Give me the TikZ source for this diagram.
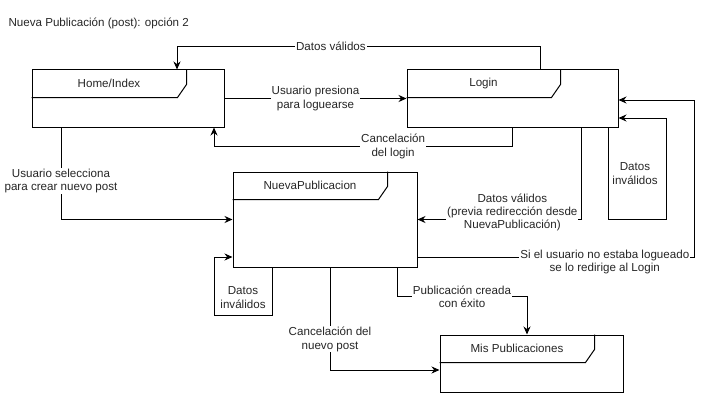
\documentclass[tikz,border=0pt]{standalone}
\usepackage{fontspec}
\setmainfont{Liberation Sans}
\usetikzlibrary{arrows.meta, positioning, calc}
\tikzset{
  frm/.style={rectangle, draw, line width=1pt, inner sep=0pt},
  txt/.style={font=\fontsize{11.6}{13.4}\selectfont, text=black!85},
  ttl/.style={txt},
  arr/.style={-{Stealth[length=8pt,width=7pt]}, line width=1pt},
  lbl/.style={txt, fill=white, inner sep=1pt, align=center},
  note/.style={txt, align=center},
}
% header band with cut corner, and the title in it
\newcommand{\hdr}[3]{%
  \draw[line width=1pt] ([yshift=-28pt]#1.north west)
    -- ([xshift=-#2pt-9pt,yshift=-28pt]#1.north east)
    -- ([xshift=-#2pt,yshift=-15pt]#1.north east)
    -- ([xshift=-#2pt]#1.north east);
  \node[ttl] (#1-t) at ($(#1.north west)!0.5!([xshift=-#2pt,yshift=-28pt]#1.north east)$) {#3};
}

\begin{document}
\begin{tikzpicture}[x=1pt, y=-1pt]
  \useasboundingbox (0,0) rectangle (707,404);

  \node[txt, anchor=west] (title) at (5,23) {Nueva Publicación (post): opción 2};

  \node[frm, minimum width=192, minimum height=57] (home) at (128,98.5) {};
  \node[frm, minimum width=211, minimum height=57] (login) at (512.5,98.5) {};
  \node[frm, minimum width=184, minimum height=95] (np) at (325,219.5) {};
  \node[frm, minimum width=183, minimum height=57] (mis) at (531.5,363.5) {};

  \hdr{home}{38}{Home/Index}
  \hdr{login}{58}{Login}
  \hdr{np}{30}{NuevaPublicacion}
  \hdr{mis}{29}{Mis Publicaciones}

  \draw[arr] ([xshift=27.5pt]login.north) |- node[lbl, pos=0.788]{Datos válidos}
    ($(home.north)+(49,-23)$) -- ([xshift=49pt]home.north);

  \draw[arr] (home.east) -- node[lbl]{Usuario presiona\\para loguearse} (login.west);

  \draw[arr] (login.south) |- node[lbl, pos=0.7]{Cancelación\\del login}
    ($(home.south)+(86,19)$) -- ([xshift=86pt]home.south);

  \draw[arr] ([xshift=-67pt]home.south) |- node[lbl, pos=0.29]{Usuario selecciona\\para crear nuevo post} (np.west);

  \draw[arr] ([xshift=-53pt]np.south) -- ++(0,48) -| ($(np.west)+(-18,37.5)$)
    -- ([yshift=-37.5pt]np.west);
  \node[note] (inv1) at ($(np.south)+(-82,30)$) {Datos\\inválidos};

  \draw[arr] ([xshift=95.5pt]login.south) -- ++(0,92) -| ($(login.east)+(48,19.5)$)
    -- ([yshift=-19.5pt]login.east);
  \node[note] (inv2) at ($(login.south)+(122.5,46)$) {Datos\\inválidos};

  \draw[arr] ([yshift=-37.5pt]np.east) -| node[lbl, pos=0.338, yshift=-5pt]{Si el usuario no estaba logueado\\se lo redirige al Login}
    ($(login.east)+(76,1.5)$) -- ([yshift=-1.5pt]login.east);

  \draw[arr] ([xshift=68.5pt]login.south) |- node[lbl, pos=0.71, yshift=7pt]{Datos válidos\\(previa redirección desde\\NuevaPublicación)} (np.east);

  \draw[arr] ([xshift=5pt]np.south) |- node[lbl, pos=0.35]{Cancelación del\\nuevo post} ([yshift=-6.5pt]mis.west);

  \draw[arr] ([xshift=72pt]np.south) -- ++(0,29) -| node[lbl, pos=0.25]{Publicación creada\\con éxito} ([xshift=-4.5pt]mis.north);

\end{tikzpicture}
\end{document}
